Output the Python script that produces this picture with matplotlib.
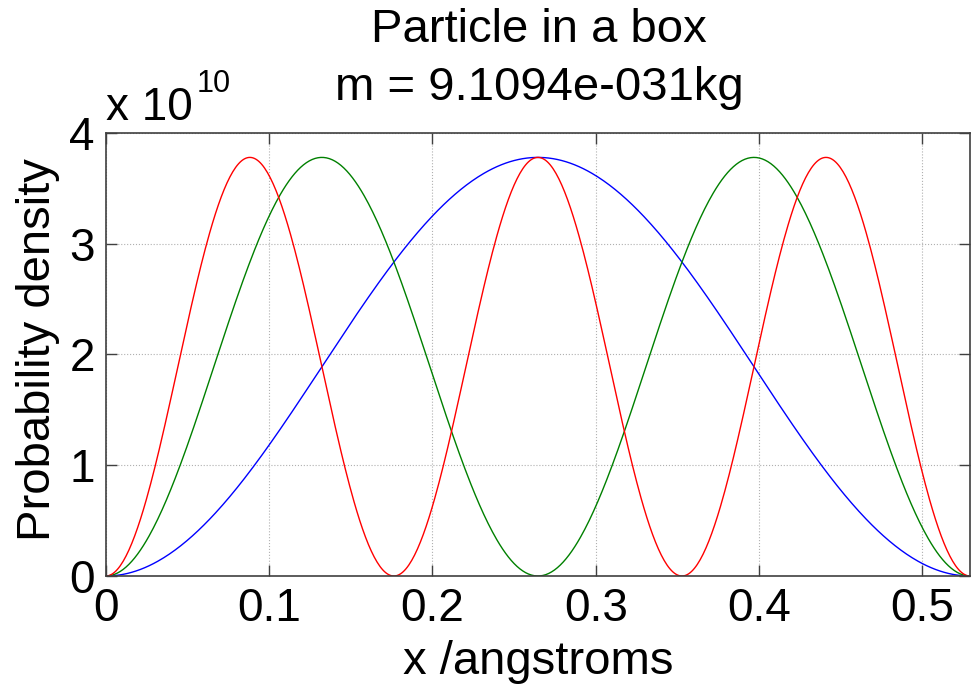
import numpy as np
import matplotlib
matplotlib.use('Agg')
import matplotlib.pyplot as plt
from matplotlib.ticker import FuncFormatter

plt.rcParams['font.family'] = ['Liberation Sans', 'DejaVu Sans']

# box parameters (Bohr radius box, electron mass)
L_ang = 0.529177          # box length in angstroms
levels = [1, 2, 3]
colors = ['blue', 'green', 'red']
xticks = [0, 0.1, 0.2, 0.3, 0.4, 0.5]
yticks = [0, 1e10, 2e10, 3e10, 4e10]
title1 = 'Particle in a box'
title2 = 'm = 9.1094e-031kg'

x = np.linspace(0, L_ang, 600)
L_m = L_ang * 1e-10

fig = plt.figure(figsize=(9.71, 6.89), dpi=100)
ax = fig.add_axes([0.109, 0.164, 0.89, 0.643])

for n, c in zip(levels, colors):
    psi2 = (2 / L_m) * np.sin(n * np.pi * x / L_ang) ** 2
    ax.plot(x, psi2, color=c, lw=1)

ax.set_xlim(0, L_ang)
ax.set_ylim(0, 4e10)
ax.set_xticks(xticks)
ax.set_yticks(yticks)
ax.xaxis.set_major_formatter(FuncFormatter(lambda v, p: '%g' % round(v, 3)))
ax.yaxis.set_major_formatter(FuncFormatter(lambda v, p: '%g' % (v / 1e10)))
ax.grid(True, ls=':', color='#b0b0b0', lw=0.8)
ax.tick_params(direction='in', length=8, width=1, labelsize=33, top=True, right=True,
               color='#404040', pad=8)
for s in ax.spines.values():
    s.set_color('#404040')
    s.set_linewidth(1.2)

ax.set_xlabel('x /angstroms', fontsize=34)
ax.xaxis.set_label_coords(0.554, 0.022, transform=fig.transFigure)
ax.xaxis.label.set_va('baseline')
ax.set_ylabel('Probability density', fontsize=34)
ax.yaxis.set_label_coords(0.039, 0.492, transform=fig.transFigure)
ax.yaxis.label.set_va('center')

fig.text(0.555, 0.939, title1, fontsize=34, ha='center', va='baseline')
fig.text(0.555, 0.855, title2, fontsize=34, ha='center', va='baseline')

# exponent marker
fig.text(0.109, 0.826, 'x 10', fontsize=33, ha='left', va='baseline')
fig.text(0.203, 0.866, '10', fontsize=22, ha='left', va='baseline')

fig.savefig('out.png', dpi=100)
